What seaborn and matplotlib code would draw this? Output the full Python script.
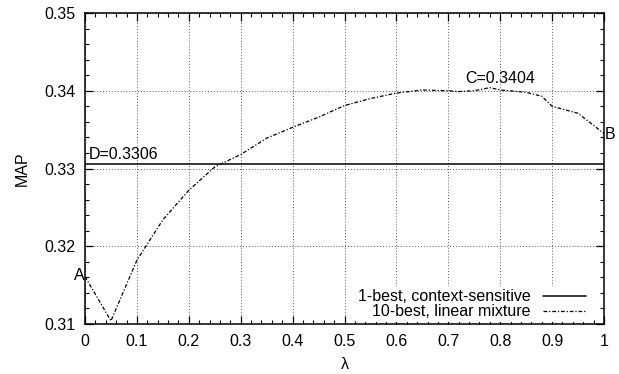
import numpy as np
import pandas as pd
import matplotlib
matplotlib.use("Agg")
import matplotlib.pyplot as plt
import seaborn as sns
from matplotlib.ticker import MultipleLocator

# data
lam = [0.0, 0.05, 0.10, 0.15, 0.20, 0.25, 0.30, 0.35, 0.40, 0.45, 0.50, 0.55,
       0.60, 0.65, 0.70, 0.72, 0.75, 0.78, 0.80, 0.85, 0.88, 0.90, 0.95, 1.00]
map_mix = [0.3161, 0.3104, 0.3182, 0.3234, 0.3272, 0.3302, 0.3318, 0.3339,
           0.3353, 0.3366, 0.3381, 0.3390, 0.3397, 0.3401, 0.3400, 0.3399,
           0.3400, 0.3404, 0.3401, 0.3398, 0.3393, 0.3380, 0.3371, 0.3345]
map_1best = 0.3306
label_1best = "1-best, context-sensitive"
label_mix = "10-best, linear mixture"

x_ticks = [0.0, 0.1, 0.2, 0.3, 0.4, 0.5, 0.6, 0.7, 0.8, 0.9, 1.0]
x_ticklabels = ["0", "0.1", "0.2", "0.3", "0.4", "0.5", "0.6", "0.7",
                "0.8", "0.9", "1"]
y_ticks = [0.31, 0.32, 0.33, 0.34, 0.35]
y_ticklabels = ["0.31", "0.32", "0.33", "0.34", "0.35"]

df = pd.DataFrame({"lambda": lam, "MAP": map_mix})
df_1best = pd.DataFrame({"lambda": [0.0, 1.0], "MAP": [map_1best, map_1best]})

sns.set_style("ticks", {"text.color": "black", "axes.labelcolor": "black",
                        "xtick.color": "black", "ytick.color": "black"})
plt.rcParams["font.family"] = ["Liberation Sans", "DejaVu Sans"]
fs = 11.5

fig = plt.figure(figsize=(6.19, 3.74), dpi=100)
ax = fig.add_axes([0.1373, 0.1337, 0.9758 - 0.1373, 0.9652 - 0.1337])

sns.lineplot(data=df_1best, x="lambda", y="MAP", ax=ax, color="black",
             linewidth=1.1, label=label_1best)
sns.lineplot(data=df, x="lambda", y="MAP", ax=ax, color="black",
             linewidth=0.9, linestyle=(0, (3, 1.5, 1, 1.5)), label=label_mix)

ax.set_xlim(0, 1)
ax.set_ylim(0.31, 0.35)
ax.set_xticks(x_ticks)
ax.set_xticklabels(x_ticklabels)
ax.set_yticks(y_ticks)
ax.set_yticklabels(y_ticklabels)
ax.xaxis.set_minor_locator(MultipleLocator(0.02))
ax.yaxis.set_minor_locator(MultipleLocator(0.002))
ax.tick_params(which="both", direction="in", top=True, right=True,
               labelsize=fs, colors="black", pad=7)
ax.tick_params(which="major", length=6, width=0.9)
ax.tick_params(which="minor", length=3, width=0.8)
for s in ax.spines.values():
    s.set_linewidth(1.1)
    s.set_color("black")
ax.grid(True, which="major", color="0.35", linestyle=(0, (1, 2)), linewidth=0.7)
ax.set_axisbelow(True)

ax.set_xlabel("λ", fontsize=fs, labelpad=6, color="black")
ax.set_ylabel("MAP", fontsize=fs, labelpad=10, color="black")

# point labels
ax.text(0.0, 0.3163, "A", ha="right", va="center", fontsize=fs, color="black")
ax.text(1.002, 0.3344, "B", ha="left", va="center", fontsize=fs, color="black")
ax.text(0.733, 0.3406, "C=0.3404", ha="left", va="bottom", fontsize=fs,
        color="black")
ax.text(0.007, 0.3308, "D=0.3306", ha="left", va="bottom", fontsize=fs,
        color="black")

leg = ax.legend(loc="lower right", bbox_to_anchor=(0.972, 0.005),
                markerfirst=False, frameon=True, fontsize=fs,
                handlelength=2.7, handletextpad=0.8, labelspacing=0.0,
                borderaxespad=0.0, borderpad=0.2)
leg.get_frame().set_facecolor("white")
leg.get_frame().set_edgecolor("none")
leg.get_frame().set_alpha(1)
for t in leg.get_texts():
    t.set_color("black")

fig.savefig("out.png", dpi=100)
